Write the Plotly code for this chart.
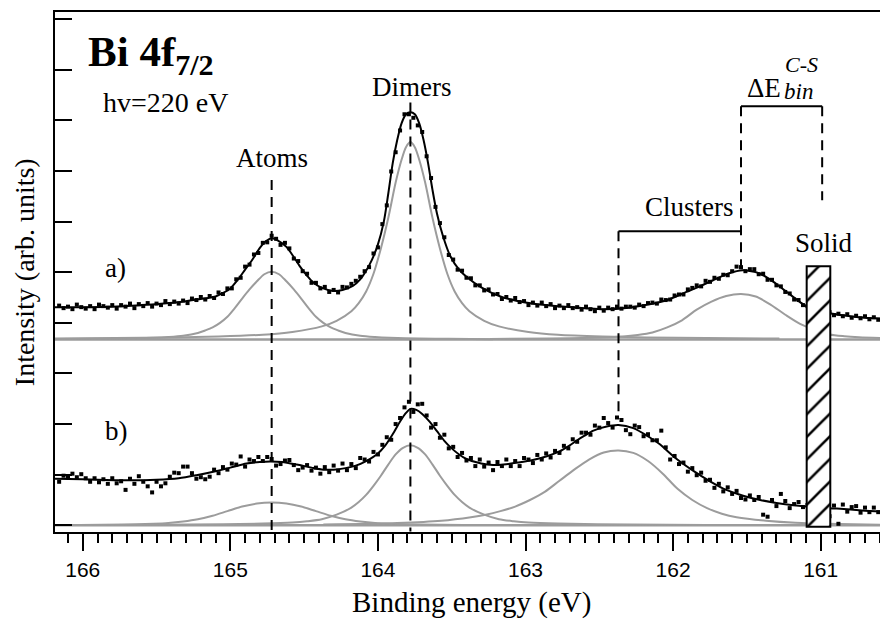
import plotly.graph_objects as go

# ---------------- data ----------------
E_data = [166.16, 166.13, 166.10, 166.07, 166.04, 166.01, 165.98, 165.95, 165.92, 165.89,
          165.86, 165.83, 165.80, 165.77, 165.74, 165.71, 165.68, 165.65, 165.62, 165.59,
          165.56, 165.53, 165.50, 165.47, 165.44, 165.41, 165.38, 165.35, 165.32, 165.29,
          165.26, 165.23, 165.20, 165.17, 165.14, 165.11, 165.08, 165.05, 165.02, 164.99,
          164.96, 164.93, 164.90, 164.87, 164.84, 164.81, 164.78, 164.75, 164.72, 164.69,
          164.66, 164.63, 164.60, 164.57, 164.54, 164.51, 164.48, 164.45, 164.42, 164.39,
          164.36, 164.33, 164.30, 164.27, 164.24, 164.21, 164.18, 164.15, 164.12, 164.09,
          164.06, 164.03, 164.00, 163.97, 163.94, 163.91, 163.88, 163.85, 163.82, 163.79,
          163.76, 163.73, 163.70, 163.67, 163.64, 163.61, 163.58, 163.55, 163.52, 163.49,
          163.46, 163.43, 163.40, 163.37, 163.34, 163.31, 163.28, 163.25, 163.22, 163.19,
          163.16, 163.13, 163.10, 163.07, 163.04, 163.01, 162.98, 162.95, 162.92, 162.89,
          162.86, 162.83, 162.80, 162.77, 162.74, 162.71, 162.68, 162.65, 162.62, 162.59,
          162.56, 162.53, 162.50, 162.47, 162.44, 162.41, 162.38, 162.35, 162.32, 162.29,
          162.26, 162.23, 162.20, 162.17, 162.14, 162.11, 162.08, 162.05, 162.02, 161.99,
          161.96, 161.93, 161.90, 161.87, 161.84, 161.81, 161.78, 161.75, 161.72, 161.69,
          161.66, 161.63, 161.60, 161.57, 161.54, 161.51, 161.48, 161.45, 161.42, 161.39,
          161.36, 161.33, 161.30, 161.27, 161.24, 161.21, 161.18, 161.15, 161.12, 161.09,
          161.06, 161.03, 161.00, 160.97, 160.94, 160.91, 160.88, 160.85, 160.82, 160.79,
          160.76, 160.73, 160.70, 160.67, 160.64, 160.61, 160.58, 160.55]

data_a = [4.34, 4.29, 4.32, 4.27, 4.36, 4.31, 4.28, 4.33, 4.27, 4.36,
          4.33, 4.30, 4.35, 4.28, 4.35, 4.32, 4.38, 4.29, 4.37, 4.33,
          4.39, 4.32, 4.38, 4.35, 4.43, 4.37, 4.42, 4.38, 4.44, 4.39,
          4.48, 4.45, 4.51, 4.46, 4.53, 4.49, 4.60, 4.57, 4.68, 4.68,
          4.86, 4.89, 5.11, 5.15, 5.35, 5.38, 5.58, 5.59, 5.72, 5.66,
          5.54, 5.58, 5.47, 5.27, 5.22, 5.02, 4.97, 4.79, 4.79, 4.68,
          4.71, 4.61, 4.65, 4.60, 4.71, 4.70, 4.77, 4.83, 4.91, 5.02,
          5.10, 5.37, 5.49, 5.95, 6.32, 6.99, 7.37, 7.80, 8.12, 8.12,
          8.05, 7.90, 7.77, 7.29, 6.86, 6.29, 5.97, 5.69, 5.34, 5.25,
          5.05, 5.03, 4.89, 4.88, 4.74, 4.74, 4.64, 4.66, 4.56, 4.57,
          4.47, 4.51, 4.44, 4.49, 4.41, 4.43, 4.35, 4.40, 4.34, 4.40,
          4.33, 4.37, 4.29, 4.34, 4.29, 4.35, 4.29, 4.31, 4.26, 4.32,
          4.27, 4.23, 4.30, 4.24, 4.30, 4.27, 4.32, 4.28, 4.32, 4.32,
          4.30, 4.36, 4.33, 4.39, 4.40, 4.38, 4.46, 4.45, 4.46, 4.54,
          4.56, 4.56, 4.66, 4.69, 4.74, 4.72, 4.83, 4.81, 4.89, 4.87,
          4.95, 4.94, 5.02, 5.11, 5.10, 5.02, 5.06, 5.06, 4.96, 4.97,
          4.85, 4.85, 4.74, 4.72, 4.61, 4.58, 4.46, 4.45, 4.35, 4.33,
          4.31, 4.24, 4.26, 4.19, 4.21, 4.15, 4.18, 4.13, 4.17, 4.10,
          4.14, 4.09, 4.13, 4.07, 4.11, 4.06, 4.10, 4.06]

data_b = [0.86, 0.98, 0.95, 1.02, 0.95, 1.01, 0.93, 0.86, 0.93, 0.85,
          0.91, 0.82, 0.93, 0.83, 0.87, 0.70, 0.92, 0.82, 0.97, 0.86,
          0.77, 0.65, 0.86, 0.77, 0.83, 0.96, 1.04, 1.03, 1.16, 1.16,
          1.03, 0.92, 0.95, 0.91, 0.96, 1.10, 1.03, 1.15, 1.10, 1.22,
          1.20, 1.36, 1.16, 1.30, 1.27, 1.35, 1.27, 1.35, 1.31, 1.18,
          1.21, 1.28, 1.29, 1.19, 1.09, 1.14, 1.19, 1.08, 1.14, 1.02,
          1.15, 1.05, 1.18, 1.08, 1.22, 1.09, 1.21, 1.13, 1.33, 1.30,
          1.26, 1.45, 1.40, 1.59, 1.74, 1.69, 2.00, 2.12, 2.33, 2.44,
          2.24, 2.39, 2.40, 2.17, 1.93, 2.00, 1.73, 1.79, 1.52, 1.55,
          1.35, 1.43, 1.28, 1.33, 1.17, 1.30, 1.16, 1.24, 1.09, 1.25,
          1.17, 1.30, 1.17, 1.27, 1.17, 1.33, 1.30, 1.23, 1.39, 1.30,
          1.42, 1.34, 1.47, 1.43, 1.57, 1.52, 1.70, 1.65, 1.83, 1.83,
          1.79, 1.97, 1.93, 2.12, 2.02, 1.93, 2.13, 2.08, 1.88, 1.80,
          1.97, 1.94, 1.76, 1.80, 1.68, 1.68, 1.87, 1.54, 1.30, 1.37,
          1.21, 1.24, 1.06, 1.13, 0.99, 1.04, 0.88, 0.90, 0.74, 0.82,
          0.67, 0.75, 0.62, 0.68, 0.54, 0.51, 0.59, 0.50, 0.56, 0.21,
          0.17, 0.50, 0.38, 0.62, 0.48, 0.34, 0.42, 0.46, 0.36, 0.40,
          0.32, 0.42, 0.32, 0.37, 0.18, 0.39, 0.03, 0.41, 0.27, 0.36,
          0.38, 0.25, 0.35, 0.26, 0.35, 0.26, 0.30, 0.57]

# total fit curves
fit_a_E = [166.19, 165.8, 165.6, 165.45, 165.34, 165.25, 165.15, 165.10, 165.05, 165.00,
           164.95, 164.90, 164.85, 164.80, 164.76, 164.72, 164.68, 164.62, 164.57, 164.53,
           164.48, 164.44, 164.38, 164.30, 164.24, 164.17, 164.12, 164.08, 164.04, 164.00,
           163.96, 163.93, 163.90, 163.87, 163.84, 163.81, 163.78, 163.75, 163.72, 163.69,
           163.66, 163.63, 163.60, 163.56, 163.51, 163.45, 163.40, 163.30, 163.17, 163.00,
           162.80, 162.60, 162.47, 162.30, 162.15, 162.04, 161.91, 161.82, 161.70, 161.62,
           161.53, 161.45, 161.41, 161.32, 161.23, 161.14, 161.10, 161.00, 160.92, 160.80,
           160.70, 160.54]
fit_a = [4.31, 4.32, 4.35, 4.38, 4.41, 4.45, 4.49, 4.52, 4.59, 4.68,
         4.85, 5.05, 5.25, 5.48, 5.61, 5.67, 5.63, 5.50, 5.30, 5.12,
         4.93, 4.80, 4.69, 4.63, 4.65, 4.73, 4.86, 5.03, 5.25, 5.55,
         6.00, 6.55, 7.15, 7.60, 7.94, 8.12, 8.16, 8.12, 7.94, 7.60,
         7.15, 6.62, 6.16, 5.72, 5.32, 5.05, 4.91, 4.70, 4.52, 4.40,
         4.33, 4.29, 4.27, 4.30, 4.37, 4.45, 4.61, 4.72, 4.88, 4.98,
         5.04, 5.01, 4.97, 4.81, 4.61, 4.41, 4.33, 4.23, 4.18, 4.13,
         4.10, 4.08]

fit_b_E = [166.19, 166.00, 165.90, 165.70, 165.50, 165.35, 165.23, 165.10, 165.00, 164.89,
           164.80, 164.73, 164.65, 164.55, 164.45, 164.37, 164.30, 164.22, 164.15, 164.08,
           164.00, 163.95, 163.90, 163.85, 163.81, 163.78, 163.74, 163.70, 163.65, 163.60,
           163.55, 163.50, 163.45, 163.40, 163.30, 163.22, 163.15, 163.05, 162.95, 162.85,
           162.77, 162.70, 162.65, 162.60, 162.54, 162.45, 162.37, 162.27, 162.16, 162.09,
           161.98, 161.86, 161.75, 161.64, 161.52, 161.41, 161.30, 161.20, 161.10, 160.89,
           160.70, 160.54]
fit_b = [0.92, 0.91, 0.90, 0.89, 0.90, 0.93, 0.99, 1.07, 1.14, 1.22,
         1.25, 1.26, 1.25, 1.20, 1.14, 1.10, 1.10, 1.13, 1.18, 1.27,
         1.42, 1.58, 1.80, 2.05, 2.22, 2.30, 2.28, 2.20, 2.05, 1.86,
         1.67, 1.52, 1.40, 1.31, 1.22, 1.19, 1.20, 1.24, 1.29, 1.37,
         1.46, 1.58, 1.68, 1.77, 1.87, 1.95, 1.98, 1.92, 1.74, 1.60,
         1.32, 1.07, 0.87, 0.70, 0.58, 0.50, 0.44, 0.40, 0.37, 0.33,
         0.29, 0.26]

# fit components (grey)
atoms_a_E = [166.22, 165.92, 165.72, 165.52, 165.42, 165.32, 165.22, 165.17, 165.12, 165.07,
             165.02, 164.97, 164.92, 164.87, 164.82, 164.77, 164.72, 164.67, 164.62, 164.57,
             164.52, 164.47, 164.42, 164.37, 164.32, 164.27, 164.22, 164.12, 164.02, 163.92,
             163.72, 163.52, 163.22]
atoms_a = [3.678, 3.683, 3.69, 3.705, 3.72, 3.745, 3.80, 3.85, 3.91, 4.00,
           4.12, 4.29, 4.48, 4.66, 4.82, 4.96, 5.01, 4.96, 4.82, 4.66,
           4.48, 4.29, 4.12, 4.00, 3.91, 3.85, 3.80, 3.745, 3.72, 3.705,
           3.69, 3.683, 3.678]

dimers_a_E = [166.28, 165.78, 165.38, 165.08, 164.78, 164.58, 164.38, 164.28, 164.18, 164.13,
              164.08, 164.03, 163.98, 163.93, 163.88, 163.84, 163.81, 163.78, 163.75, 163.72,
              163.68, 163.63, 163.58, 163.53, 163.48, 163.43, 163.38, 163.28, 163.18, 162.98,
              162.78, 162.48, 162.18, 161.78, 161.28]
dimers_a = [3.688, 3.698, 3.71, 3.73, 3.765, 3.82, 3.93, 4.04, 4.23, 4.39,
            4.62, 4.97, 5.47, 6.07, 6.77, 7.22, 7.47, 7.57, 7.47, 7.22,
            6.77, 6.07, 5.47, 4.97, 4.62, 4.39, 4.23, 4.04, 3.93, 3.82,
            3.765, 3.73, 3.71, 3.698, 3.688]

clusters_a_E = [163.24, 162.84, 162.54, 162.34, 162.24, 162.14, 162.04, 161.94, 161.84, 161.74,
                161.64, 161.54, 161.44, 161.34, 161.24, 161.14, 161.04, 160.94, 160.84, 160.74,
                160.54]
clusters_a = [3.68, 3.69, 3.705, 3.73, 3.76, 3.81, 3.91, 4.05, 4.26, 4.42,
              4.53, 4.57, 4.52, 4.36, 4.16, 3.98, 3.86, 3.77, 3.735, 3.715,
              3.695]

atoms_b_E = [166.02, 165.72, 165.52, 165.42, 165.32, 165.22, 165.12, 165.02, 164.92, 164.82,
             164.72, 164.62, 164.52, 164.42, 164.32, 164.22, 164.12, 164.02, 163.92, 163.72,
             163.42]
atoms_b = [0.007, 0.015, 0.03, 0.045, 0.075, 0.12, 0.19, 0.28, 0.37, 0.43,
           0.45, 0.43, 0.37, 0.28, 0.19, 0.12, 0.075, 0.045, 0.03, 0.015,
           0.007]

dimers_b_E = [165.78, 165.28, 164.78, 164.58, 164.48, 164.38, 164.28, 164.18, 164.13, 164.08,
              164.03, 163.98, 163.93, 163.88, 163.83, 163.78, 163.73, 163.68, 163.63, 163.58,
              163.53, 163.48, 163.43, 163.38, 163.28, 163.18, 163.08, 162.98, 162.78, 162.28,
              161.78]
dimers_b = [0.007, 0.015, 0.035, 0.055, 0.08, 0.12, 0.21, 0.35, 0.46, 0.60,
            0.78, 0.98, 1.20, 1.40, 1.53, 1.58, 1.53, 1.40, 1.20, 0.98,
            0.78, 0.60, 0.46, 0.35, 0.21, 0.12, 0.08, 0.055, 0.035, 0.015,
            0.007]

clusters_b_E = [164.37, 163.87, 163.57, 163.37, 163.27, 163.17, 163.07, 162.97, 162.87, 162.77,
                162.67, 162.57, 162.47, 162.37, 162.27, 162.17, 162.07, 161.97, 161.87, 161.77,
                161.67, 161.57, 161.37, 161.17, 160.87, 160.57]
clusters_b = [0.015, 0.045, 0.09, 0.16, 0.21, 0.28, 0.37, 0.50, 0.66, 0.88,
              1.10, 1.30, 1.44, 1.48, 1.43, 1.27, 1.02, 0.72, 0.50, 0.34,
              0.23, 0.16, 0.09, 0.05, 0.025, 0.01]

baseline_E = [166.19, 160.54]
baseline_a = [3.67, 3.67]
baseline_b = [0.0, 0.0]

# peak positions (eV) used for the marker lines
E_atoms, E_dimers, E_clusters, E_cs_left, E_cs_right = 164.72, 163.78, 162.37, 161.54, 160.99
# "Solid" reference region (eV) and its height
solid_E = [161.095, 160.935]
solid_y = [-0.03, 5.12]

# ---------------- styling ----------------
SERIF = "Liberation Serif, Times New Roman, serif"
SANS = "Liberation Sans Narrow, Liberation Sans, Arial, sans-serif"
GREY = "#9c9c9c"
XR = [166.188, 160.544]
YR = [-0.132, 10.14]

fig = go.Figure()

def grey(x, y, w=2):
    fig.add_trace(go.Scatter(x=x, y=y, mode="lines", line=dict(color=GREY, width=w, shape="spline", smoothing=0.8),
                             hoverinfo="skip"))

grey(baseline_E, baseline_a, 2.5)
grey(baseline_E, baseline_b, 2.5)
for xs, ys in [(atoms_a_E, atoms_a), (dimers_a_E, dimers_a), (clusters_a_E, clusters_a),
               (atoms_b_E, atoms_b), (dimers_b_E, dimers_b), (clusters_b_E, clusters_b)]:
    grey(xs, ys)

for xs, ys in [(fit_a_E, fit_a), (fit_b_E, fit_b)]:
    fig.add_trace(go.Scatter(x=xs, y=ys, mode="lines",
                             line=dict(color="black", width=2, shape="spline", smoothing=0.8)))

for ys in [data_a, data_b]:
    fig.add_trace(go.Scatter(x=E_data, y=ys, mode="markers",
                             marker=dict(symbol="square", size=4, color="black", line=dict(width=0))))

# hatched "Solid" box on an overlaid subplot so it covers the spectra
fig.add_trace(go.Bar(x=[(solid_E[0] + solid_E[1]) / 2], y=[solid_y[1] - solid_y[0]], base=[solid_y[0]],
                     width=[solid_E[0] - solid_E[1]], xaxis="x2", yaxis="y2",
                     marker=dict(color="white", opacity=1, line=dict(color="black", width=2),
                                 pattern=dict(shape="/", fgcolor="black", bgcolor="white", fgopacity=1,
                                              fillmode="replace", size=16, solidity=0.16))))

# dashed marker lines and brackets
DASH = dict(color="black", width=2, dash="10px,7px")
SOLID = dict(color="black", width=2)
def vline(x, y0, y1):
    fig.add_shape(type="line", x0=x, x1=x, y0=y0, y1=y1, xref="x", yref="y", line=DASH, layer="above")
def hline(x0, x1, y):
    fig.add_shape(type="line", x0=x0, x1=x1, y0=y, y1=y, xref="x", yref="y", line=SOLID, layer="above")

vline(E_atoms, 6.82, -0.12)
vline(E_dimers, 8.35, -0.12)
vline(E_clusters, 5.81, 2.10)
vline(E_cs_left, 8.28, 5.10)
vline(E_cs_right, 8.28, 6.42)
hline(E_clusters, E_cs_left, 5.81)
hline(E_cs_left, E_cs_right, 8.28)

def label(text, x, y, size=27, xanchor="center"):
    fig.add_annotation(x=x, y=y, xref="x", yref="y", text=text, showarrow=False,
                       xanchor=xanchor, yanchor="middle",
                       font=dict(family=SERIF, size=size, color="black"))

label("<b>Bi 4f<sub>7/2</sub></b>", 165.975, 9.30, size=43, xanchor="left")
label("hv=220 eV", 165.875, 8.35, size=28, xanchor="left")
label("Atoms", E_atoms, 7.25)
label("Dimers", 163.77, 8.66)
label("Clusters", 161.89, 6.28)
label("Solid", 160.98, 5.57)
label("a)", 165.78, 5.08)
label("b)", 165.77, 1.86)
label("ΔE", 161.385, 8.64)
label("<i>C-S</i>", 161.13, 9.10, size=22)
label("<i>bin</i>", 161.15, 8.56, size=23)

# axis titles
fig.add_annotation(x=0.5, y=-0.135, xref="paper", yref="paper", text="Binding energy (eV)", showarrow=False,
                   xanchor="center", yanchor="middle", font=dict(family=SERIF, size=29, color="black"))
fig.add_annotation(x=-0.037, y=0.5, xref="paper", yref="paper", text="Intensity (arb. units)", showarrow=False,
                   textangle=-90, xanchor="center", yanchor="middle", font=dict(family=SERIF, size=28, color="black"))

# the page body adds an 8px offset, so the figure is 8px smaller than the window
fig.update_layout(
    width=880, height=613, margin=dict(l=47, r=0, t=4, b=89.3, autoexpand=False),
    plot_bgcolor="white", paper_bgcolor="white", showlegend=False,
    xaxis=dict(range=XR, showgrid=False, zeroline=False, showline=True, linewidth=2, linecolor="black",
               mirror=True, ticks="outside", ticklen=17, tickwidth=2, tickcolor="black",
               tick0=166, dtick=1, ticklabelstandoff=1, automargin=False,
               tickfont=dict(family=SANS, size=21, color="black"),
               minor=dict(ticks="outside", ticklen=9, tickwidth=2, tickcolor="black", dtick=0.1, showgrid=False)),
    yaxis=dict(range=YR, showgrid=False, zeroline=False, showline=True, linewidth=2, linecolor="black",
               mirror=False, ticks="inside", ticklen=17, tickwidth=2, tickcolor="black",
               tick0=0, dtick=1, showticklabels=False, automargin=False),
    xaxis2=dict(range=XR, overlaying="x", anchor="y2", visible=False),
    yaxis2=dict(range=YR, overlaying="y", anchor="x2", visible=False),
)

fig.write_html("out.html")
